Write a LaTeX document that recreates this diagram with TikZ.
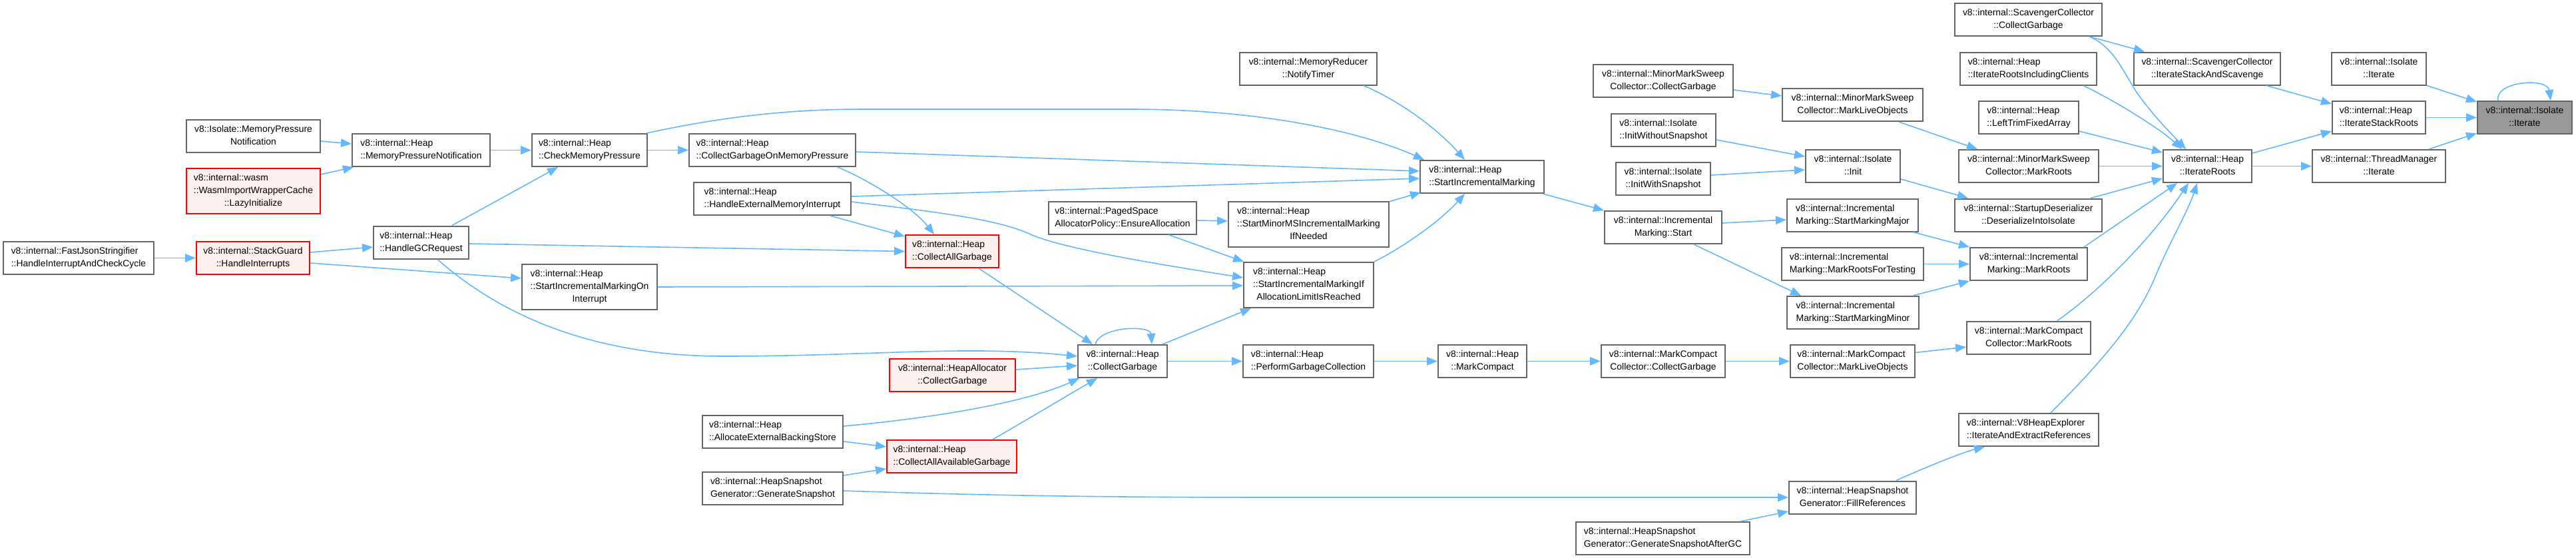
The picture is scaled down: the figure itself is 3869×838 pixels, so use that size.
\documentclass[tikz,border=0pt]{standalone}
\usepackage{fontspec}
\setmainfont{Liberation Sans}
\usetikzlibrary{arrows.meta}
\definecolor{edgeblue}{HTML}{63B8FF}
\definecolor{bordergray}{HTML}{666666}
\definecolor{redfill}{HTML}{FFF0F0}
\definecolor{targetfill}{HTML}{999999}
\newcommand{\labii}[2]{\begin{tabular}{@{}l@{}}#1\\\multicolumn{1}{@{}c@{}}{#2}\end{tabular}}
\newcommand{\labiii}[3]{\begin{tabular}{@{}l@{}}#1\\#2\\\multicolumn{1}{@{}c@{}}{#3}\end{tabular}}
\begin{document}
\begin{tikzpicture}[x=1pt,y=1pt,
  fnode/.style={draw=bordergray, line width=2pt, fill=white, rectangle, inner sep=0pt, minimum height=49pt, font=\fontsize{13.9}{19}\selectfont, text=black},
  rnode/.style={fnode, draw=red, fill=redfill},
  tnode/.style={fnode, fill=targetfill},
  tall/.style={minimum height=68pt},
  edge/.style={draw=edgeblue, line width=1.6pt, -{Triangle[length=16pt,width=12.5pt]}}
]
\useasboundingbox (0,0) rectangle (3869,-838);
\fill[white] (0,0) rectangle (3869,-838);

\node[fnode,minimum width=226pt] (fastjson) at (118,-387.5) {\labii{v8::internal::FastJsonStringifier}{::HandleInterruptAndCheckCycle}};
\node[rnode,minimum width=170pt] (stackguard) at (380,-387.5) {\labii{v8::internal::StackGuard}{::HandleInterrupts}};
\node[fnode,minimum width=201pt] (isompn) at (380.5,-204.5) {\labii{v8::Isolate::MemoryPressure}{Notification}};
\node[rnode,tall,minimum width=201pt] (wasm) at (380.5,-287) {\labiii{v8::internal::wasm}{::WasmImportWrapperCache}{::LazyInitialize}};
\node[fnode,minimum width=207pt] (heapmpn) at (632.5,-225.5) {\labii{v8::internal::Heap}{::MemoryPressureNotification}};
\node[fnode,minimum width=143pt] (gcreq) at (632.5,-364) {\labii{v8::internal::Heap}{::HandleGCRequest}};
\node[fnode,minimum width=173pt] (cmp) at (885.5,-225.5) {\labii{v8::internal::Heap}{::CheckMemoryPressure}};
\node[fnode,tall,minimum width=203pt] (simoi) at (885.5,-431) {\labiii{v8::internal::Heap}{::StartIncrementalMarkingOn}{Interrupt}};
\node[fnode,minimum width=250pt] (cgomp) at (1160,-225.5) {\labii{v8::internal::Heap}{::CollectGarbageOnMemoryPressure}};
\node[fnode,minimum width=236pt] (hextmem) at (1160,-298.5) {\labii{v8::internal::Heap}{::HandleExternalMemoryInterrupt}};
\node[fnode,minimum width=211pt] (allocext) at (1160.5,-648.5) {\labii{v8::internal::Heap}{::AllocateExternalBackingStore}};
\node[fnode,minimum width=211pt] (hsgen) at (1160.5,-733.5) {\labii{v8::internal::HeapSnapshot}{Generator::GenerateSnapshot}};
\node[rnode,minimum width=140pt] (cag) at (1430,-377.5) {\labii{v8::internal::Heap}{::CollectAllGarbage}};
\node[rnode,minimum width=189pt] (hacg) at (1430.5,-563) {\labii{v8::internal::HeapAllocator}{::CollectGarbage}};
\node[rnode,minimum width=195pt] (caag) at (1429.5,-685.5) {\labii{v8::internal::Heap}{::CollectAllAvailableGarbage}};
\node[fnode,minimum width=134pt] (hcg) at (1686,-542.5) {\labii{v8::internal::Heap}{::CollectGarbage}};
\node[fnode,minimum width=222pt] (paged) at (1686,-327) {\labii{v8::internal::PagedSpace}{AllocatorPolicy::EnsureAllocation}};
\node[fnode,minimum width=206pt] (memred) at (1965,-103) {\labii{v8::internal::MemoryReducer}{::NotifyTimer}};
\node[fnode,tall,minimum width=241pt] (sminorms) at (1965.5,-336.5) {\labiii{v8::internal::Heap}{::StartMinorMSIncrementalMarking}{IfNeeded}};
\node[fnode,tall,minimum width=195pt] (simifalloc) at (1965.5,-428) {\labiii{v8::internal::Heap}{::StartIncrementalMarkingIf}{AllocationLimitIsReached}};
\node[fnode,minimum width=196pt] (pgc) at (1965,-542.5) {\labii{v8::internal::Heap}{::PerformGarbageCollection}};
\node[fnode,minimum width=186pt] (sim) at (2226,-265.5) {\labii{v8::internal::Heap}{::StartIncrementalMarking}};
\node[fnode,minimum width=133pt] (mc) at (2226.5,-542.5) {\labii{v8::internal::Heap}{::MarkCompact}};
\node[fnode,minimum width=210pt] (mmscg) at (2498,-121.5) {\labii{v8::internal::MinorMarkSweep}{Collector::CollectGarbage}};
\node[fnode,minimum width=157pt] (iiwo) at (2498.5,-195) {\labii{v8::internal::Isolate}{::InitWithoutSnapshot}};
\node[fnode,minimum width=142pt] (iiw) at (2498,-268) {\labii{v8::internal::Isolate}{::InitWithSnapshot}};
\node[fnode,minimum width=176pt] (imstart) at (2498,-341.5) {\labii{v8::internal::Incremental}{Marking::Start}};
\node[fnode,minimum width=186pt] (mccg) at (2498,-542.5) {\labii{v8::internal::MarkCompact}{Collector::CollectGarbage}};
\node[fnode,minimum width=261pt] (hsgafter) at (2497.5,-808.5) {\labii{v8::internal::HeapSnapshot}{Generator::GenerateSnapshotAfterGC}};
\node[fnode,minimum width=211pt] (mmsmlo) at (2782.5,-157.5) {\labii{v8::internal::MinorMarkSweep}{Collector::MarkLiveObjects}};
\node[fnode,minimum width=142pt] (isoinit) at (2783,-249.5) {\labii{v8::internal::Isolate}{::Init}};
\node[fnode,minimum width=197pt] (smmajor) at (2782.5,-323) {\labii{v8::internal::Incremental}{Marking::StartMarkingMajor}};
\node[fnode,minimum width=213pt] (mrft) at (2782.5,-396.5) {\labii{v8::internal::Incremental}{Marking::MarkRootsForTesting}};
\node[fnode,minimum width=198pt] (smminor) at (2783,-469.5) {\labii{v8::internal::Incremental}{Marking::StartMarkingMinor}};
\node[fnode,minimum width=187pt] (mcmlo) at (2782.5,-542.5) {\labii{v8::internal::MarkCompact}{Collector::MarkLiveObjects}};
\node[fnode,minimum width=191pt] (fillrefs) at (2782.5,-747) {\labii{v8::internal::HeapSnapshot}{Generator::FillReferences}};
\node[fnode,minimum width=221pt] (scavcg) at (3046.5,-29.5) {\labii{v8::internal::ScavengerCollector}{::CollectGarbage}};
\node[fnode,minimum width=205pt] (irinc) at (3046.5,-103) {\labii{v8::internal::Heap}{::IterateRootsIncludingClients}};
\node[fnode,minimum width=150pt] (lefttrim) at (3047,-176.5) {\labii{v8::internal::Heap}{::LeftTrimFixedArray}};
\node[fnode,minimum width=210pt] (mmsmr) at (3047,-249.5) {\labii{v8::internal::MinorMarkSweep}{Collector::MarkRoots}};
\node[fnode,minimum width=221pt] (sdeser) at (3046.5,-323) {\labii{v8::internal::StartupDeserializer}{::DeserializeIntoIsolate}};
\node[fnode,minimum width=176pt] (immr) at (3047,-396.5) {\labii{v8::internal::Incremental}{Marking::MarkRoots}};
\node[fnode,minimum width=186pt] (mcmr) at (3047,-507) {\labii{v8::internal::MarkCompact}{Collector::MarkRoots}};
\node[fnode,minimum width=210pt] (v8he) at (3047,-645.5) {\labii{v8::internal::V8HeapExplorer}{::IterateAndExtractReferences}};
\node[fnode,minimum width=220pt] (isas) at (3315,-103) {\labii{v8::internal::ScavengerCollector}{::IterateStackAndScavenge}};
\node[fnode,minimum width=133pt] (iroots) at (3315.5,-249.5) {\labii{v8::internal::Heap}{::IterateRoots}};
\node[fnode,minimum width=142pt] (isoit2) at (3573,-103) {\labii{v8::internal::Isolate}{::Iterate}};
\node[fnode,minimum width=140pt] (isr) at (3573,-176.5) {\labii{v8::internal::Heap}{::IterateStackRoots}};
\node[fnode,minimum width=200pt] (tm) at (3573,-249.5) {\labii{v8::internal::ThreadManager}{::Iterate}};
\node[tnode,minimum width=142pt] (target) at (3792,-176.5) {\labii{v8::internal::Isolate}{::Iterate}};

\draw[edge] (fastjson.east) -- (stackguard.west);
\draw[edge] ([yshift=8.5]stackguard.east) -- ([yshift=-7]gcreq.west);
\draw[edge] ([yshift=-7.5]stackguard.east) -- ([yshift=13]simoi.west);
\draw[edge] ([yshift=-7.5]isompn.east) -- ([yshift=9.5]heapmpn.west);
\draw[edge] ([yshift=25]wasm.east) -- ([xshift=3]heapmpn.south west);
\draw[edge] (heapmpn.east) -- (cmp.west);
\draw[edge] ([xshift=46.5]gcreq.north) -- ([xshift=-47.5]cmp.south);
\draw[edge] ([xshift=24.5]gcreq.south) .. controls (760,-480) and (900,-535) .. (1088,-535) .. controls (1300,-535) and (1450,-518) .. ([yshift=7.5]hcg.west);
\draw[edge] (cmp.east) -- (cgomp.west);
\draw[edge] ([xshift=-2]cmp.north east) .. controls (1100,-172) and (1200,-164) .. (1300,-164) -- (1695,-164) .. controls (1900,-164) and (2050,-200) .. ([xshift=7]sim.north west);
\draw[edge] ([yshift=-2.5]cgomp.east) -- ([yshift=8.5]sim.west);
\draw[edge] ([xshift=98]cgomp.south) .. controls (1300,-268) and (1370,-310) .. ([xshift=-27]cag.north);
\draw[edge] ([yshift=3.5]hextmem.east) -- ([yshift=-2.5]sim.west);
\draw[edge] ([yshift=-4.5]hextmem.east) .. controls (1420,-320) and (1500,-330) .. (1548,-352) .. controls (1600,-375) and (1760,-400) .. ([yshift=11]simifalloc.west);
\draw[edge] ([xshift=87]hextmem.south) -- ([yshift=-3]cag.north west);
\draw[edge] ([yshift=-2]gcreq.east) -- (cag.west);
\draw[edge] (simoi.east) -- ([yshift=-1]simifalloc.west);
\draw[edge] ([xshift=40]cag.south) -- ([xshift=-45]hcg.north);
\draw[edge] ([yshift=8]hacg.east) -- ([yshift=-6.5]hcg.west);
\draw[edge] ([yshift=8.5]allocext.east) .. controls (1400,-628) and (1540,-605) .. ([xshift=3]hcg.south west);
\draw[edge] ([yshift=-14.5]allocext.east) -- ([yshift=14.5]caag.west);
\draw[edge] ([yshift=19.5]hsgen.east) -- ([yshift=-18.5]caag.west);
\draw[edge] ([yshift=-3.5]hsgen.east) .. controls (1500,-745) and (1700,-747) .. (1930,-747) -- (fillrefs.west);
\draw[edge] ([xshift=61.5]caag.north) .. controls (1560,-620) and (1610,-590) .. ([xshift=-38]hcg.south);
\draw[edge] ([xshift=-41]hcg.north) .. controls (1652,-490) and (1728,-488) .. ([xshift=44]hcg.north);
\draw[edge] ([xshift=60]hcg.north) -- ([xshift=-86.5]simifalloc.south);
\draw[edge] (hcg.east) -- (pgc.west);
\draw[edge] ([yshift=-4]paged.east) -- ([yshift=4.5]sminorms.west);
\draw[edge] ([xshift=69]paged.south) -- ([xshift=1]simifalloc.north west);
\draw[edge] ([xshift=83]memred.south) .. controls (2110,-155) and (2165,-200) .. ([xshift=-26]sim.north);
\draw[edge] ([yshift=-1]sminorms.north east) -- ([xshift=2,yshift=2]sim.south west);
\draw[edge] (simifalloc.north east) .. controls (2110,-370) and (2165,-330) .. ([xshift=-26]sim.south);
\draw[edge] ([xshift=-3]sim.south east) -- (imstart.north west);
\draw[edge] (pgc.east) -- (mc.west);
\draw[edge] (mc.east) -- (mccg.west);
\draw[edge] (mccg.east) -- (mcmlo.west);
\draw[edge] ([yshift=-13.5]mmscg.east) -- ([yshift=13.5]mmsmlo.west);
\draw[edge] ([yshift=-15]iiwo.east) -- ([yshift=14.5]isoinit.west);
\draw[edge] ([yshift=5]iiw.east) -- ([yshift=-5.5]isoinit.west);
\draw[edge] ([yshift=6.5]imstart.east) -- ([yshift=-7]smmajor.west);
\draw[edge] ([xshift=46]imstart.south) -- ([xshift=-78]smminor.north);
\draw[edge] ([xshift=69.5]mmsmlo.south) -- ([xshift=-77]mmsmr.north);
\draw[edge] ([yshift=-19.5]isoinit.east) -- ([xshift=-90.5]sdeser.north);
\draw[edge] ([xshift=90.5]smmajor.south) -- (immr.north west);
\draw[edge] (mrft.east) -- (immr.west);
\draw[edge] ([xshift=90]smminor.north) -- (immr.south west);
\draw[edge] ([yshift=13]mcmlo.east) -- ([yshift=-14]mcmr.west);
\draw[edge] ([xshift=116.5]hsgafter.north) -- ([yshift=-21]fillrefs.west);
\draw[edge] ([xshift=65.5]fillrefs.north) .. controls (2880,-707) and (2945,-680) .. ([xshift=-66]v8he.south);
\draw[edge] ([xshift=33]v8he.north) .. controls (3160,-540) and (3210,-480) .. (3236,-418) .. controls (3260,-360) and (3285,-320) .. ([xshift=-15.5]iroots.south);
\draw[edge] ([xshift=43]mcmr.north) .. controls (3150,-440) and (3230,-360) .. ([xshift=-28.5]iroots.south);
\draw[edge] ([xshift=83]immr.north) -- ([xshift=-45.5]iroots.south);
\draw[edge] ([xshift=93.5]sdeser.north) -- ([yshift=-18.5]iroots.west);
\draw[edge] (mmsmr.east) -- (iroots.west);
\draw[edge] ([yshift=-20.5]lefttrim.east) -- ([yshift=20.5]iroots.west);
\draw[edge] ([xshift=82.5]irinc.south) .. controls (3170,-148) and (3240,-190) .. ([xshift=-38]iroots.north);
\draw[edge] ([xshift=91.5]scavcg.south) .. controls (3175,-70) and (3190,-110) .. (3210,-140) .. controls (3235,-175) and (3265,-205) .. ([xshift=-32.5]iroots.north);
\draw[edge] ([xshift=91.5]scavcg.south) -- ([xshift=-94]isas.north);
\draw[edge] ([xshift=89]isas.south) -- ([yshift=20.5]isr.west);
\draw[edge] ([yshift=19.5]iroots.east) -- ([yshift=-20.5]isr.west);
\draw[edge] (iroots.east) -- (tm.west);
\draw[edge] (isoit2.south east) -- ([yshift=-2]target.north west);
\draw[edge] (isr.east) -- (target.west);
\draw[edge] ([xshift=75]tm.north) -- ([yshift=2]target.south west);
\draw[edge] ([xshift=-40]target.north) .. controls (3746,-122) and (3826,-116) .. ([xshift=39]target.north);
\end{tikzpicture}
\end{document}
